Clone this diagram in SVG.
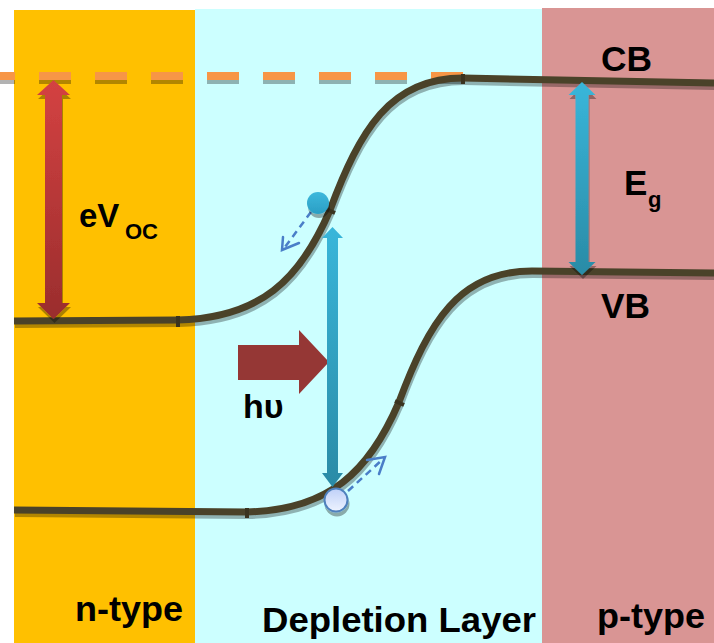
<svg xmlns="http://www.w3.org/2000/svg" width="714" height="643" viewBox="0 0 714 643">
<defs>
<style>
.band{fill:none;stroke:#4A4229;stroke-width:7;stroke-linecap:butt}
.bandsh{fill:none;stroke:#000;stroke-opacity:0.3;stroke-width:7}
.lbl{font-family:"Liberation Sans",Arial,sans-serif;font-weight:bold;fill:#000}
.tick{stroke:#3A331F;stroke-width:4}
.dash{fill:none;stroke:#4A7EC8;stroke-width:2.5;stroke-dasharray:7 5}
.head{fill:none;stroke:#4A7EC8;stroke-width:2.5;stroke-linecap:round}
</style>
<linearGradient id="gRed" x1="0" y1="0" x2="0" y2="1">
<stop offset="0" stop-color="#D44242"/><stop offset="1" stop-color="#9A2D2D"/>
</linearGradient>
<linearGradient id="gBlue" x1="0" y1="0" x2="0" y2="1">
<stop offset="0" stop-color="#39B6DA"/><stop offset="1" stop-color="#2A8BA6"/>
</linearGradient>
<linearGradient id="gHole" x1="0" y1="0" x2="0" y2="1">
<stop offset="0" stop-color="#BFD0F8"/><stop offset="1" stop-color="#EEF3FF"/>
</linearGradient>
<linearGradient id="gElec" x1="0" y1="0" x2="0" y2="1">
<stop offset="0" stop-color="#3DB8DC"/><stop offset="1" stop-color="#2A9EC4"/>
</linearGradient>
<filter id="sh" x="-20%" y="-20%" width="140%" height="140%">
<feDropShadow dx="1" dy="4" stdDeviation="0.6" flood-color="#000" flood-opacity="0.33"/>
</filter>
</defs>
<rect width="714" height="643" fill="#FFFFFF"/>
<g id="regions">
<rect id="n-region" x="14" y="10" width="181" height="633" fill="#FFC000"/>
<rect id="depletion-region" x="195" y="9" width="347" height="634" fill="#CCFFFF"/>
<rect id="p-region" x="542" y="8" width="172" height="635" fill="#D99594"/>
</g>
<g id="connectors">
<g id="fermi-level">
<line x1="-17" y1="80" x2="463" y2="80" stroke="#000" stroke-opacity="0.3" stroke-width="8" stroke-dasharray="32 24"/>
<line x1="-17" y1="76" x2="463" y2="76" stroke="#F79646" stroke-width="8" stroke-dasharray="32 24"/>
</g>
<g id="conduction-band">
<path class="bandsh" transform="translate(1,3.5)" d="M14,321 L178,320 C260,318 300,280 330,210 C360,130 390,78 463,78 L714,83"/>
<path class="band" d="M14,321 L178,320 C260,318 300,280 330,210 C360,130 390,78 463,78 L714,83"/>
<line class="tick" x1="178" y1="316" x2="178" y2="327"/>
<line class="tick" x1="326" y1="209" x2="335" y2="213"/>
<line class="tick" x1="463" y1="74" x2="463" y2="84"/>
</g>
<g id="valence-band">
<path class="bandsh" transform="translate(1,3.5)" d="M14,510 L247,512 C329,510 369,472 399,402 C429,322 459,271 532,271 L714,273"/>
<path class="band" d="M14,510 L247,512 C329,510 369,472 399,402 C429,322 459,271 532,271 L714,273"/>
<line class="tick" x1="247" y1="508" x2="247" y2="518"/>
<line class="tick" x1="395" y1="401" x2="404" y2="405"/>
</g>
<g id="voc-arrow" filter="url(#sh)">
<polygon fill="url(#gRed)" points="53.5,80 70,95 62,95 62,303 70,303 53.5,319 37,303 45,303 45,95 37,95"/>
</g>
<g id="eg-arrow" filter="url(#sh)">
<polygon fill="url(#gBlue)" points="582,82 595.5,95 588.5,95 588.5,262 595.5,262 582,275 568.5,262 575.5,262 575.5,95 568.5,95"/>
</g>
<g id="photon-arrow">
<polygon fill="#953735" points="238,345 299,345 299,330 329,362 299,394 299,380 238,380"/>
</g>
<g id="excitation-arrow">
<polygon fill="url(#gBlue)" points="332.5,227 343,238 338,238 338,473 343,473 332.5,487 322,473 327,473 327,238 322,238"/>
</g>
<g id="electron-drift">
<line class="dash" x1="311" y1="212" x2="285" y2="247"/>
<polyline class="head" points="283,237 282,250 299,243"/>
</g>
<g id="hole-drift">
<line class="dash" x1="348" y1="491" x2="383" y2="459"/>
<polyline class="head" points="367,460 385,457 379,474"/>
</g>
</g>
<g id="electron" filter="url(#sh)">
<circle cx="318" cy="203" r="11" fill="url(#gElec)"/>
</g>
<g id="hole" filter="url(#sh)">
<circle cx="336" cy="500" r="11.5" fill="url(#gHole)" stroke="#4F81BD" stroke-width="2"/>
</g>
<g id="labels">
<text class="lbl" x="79" y="227" font-size="33">eV</text>
<text class="lbl" x="125" y="239" font-size="22">OC</text>
<text class="lbl" x="624" y="195" font-size="35">E</text>
<text class="lbl" x="648" y="207" font-size="22">g</text>
<text class="lbl" x="601" y="71" font-size="35" textLength="51" lengthAdjust="spacingAndGlyphs">CB</text>
<text class="lbl" x="601" y="318" font-size="35" textLength="49" lengthAdjust="spacingAndGlyphs">VB</text>
<text class="lbl" x="243" y="418" font-size="34">hυ</text>
<text class="lbl" x="75" y="621" font-size="35" textLength="108" lengthAdjust="spacingAndGlyphs">n-type</text>
<text class="lbl" x="262" y="632" font-size="35" textLength="274" lengthAdjust="spacingAndGlyphs">Depletion Layer</text>
<text class="lbl" x="597" y="628" font-size="35" textLength="108" lengthAdjust="spacingAndGlyphs">p-type</text>
</g>
</svg>
